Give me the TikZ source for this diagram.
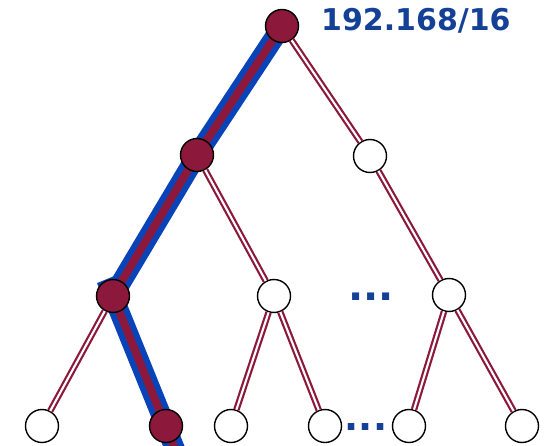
\documentclass[tikz,border=0pt]{standalone}
\usepackage{fontspec}
\setmainfont{DejaVu Sans}
\usetikzlibrary{backgrounds}
\definecolor{wine}{RGB}{140,24,60}
\definecolor{route}{RGB}{8,68,184}
\definecolor{prefix}{RGB}{20,64,150}
\begin{document}
\begin{tikzpicture}[x=1pt, y=-1pt,
    hop/.style={circle, draw, line width=1.4pt, minimum size=33pt, inner sep=0pt, fill=white},
    used/.style={hop, fill=wine},
    link/.style={draw=wine, double=white, line width=2.2pt, double distance=2.1pt},
    more/.style={text=prefix, inner sep=0pt, anchor=base, font=\bfseries\fontsize{40}{40}\selectfont}]
\useasboundingbox (0,0) rectangle (545,446);

% tree
\node[used] (r) at (282,26) {};
\node[used] (a) at (197,155) {};
\node[hop] (b) at (370,156) {};
\node[used] (aa) at (113,296) {};
\node[hop] (ab) at (274,296) {};
\node[hop] (bb) at (449,295) {};
\node[hop] (aaa) at (42,426) {};
\node[used] (aab) at (166,426) {};
\node[hop] (aba) at (231,426) {};
\node[hop] (abb) at (325,426) {};
\node[hop] (bba) at (409,426) {};
\node[hop] (bbb) at (522,426) {};
\coordinate (out) at (181,464);

\foreach \p/\c in {r/b, a/ab, b/bb, aa/aaa, ab/aba, ab/abb, bb/bba, bb/bbb}
    \draw[link] (\p) -- (\c);

% lookup path
\begin{scope}[on background layer]
    \draw[route, line width=20pt] (r.center) -- (a.center) -- (aa.center);
    \draw[route, line width=20pt, shorten <=-18pt] (aa.center) -- (out);
    \draw[wine, line width=8pt] (r.center) -- (a.center) -- (aa.center) -- (out);
\end{scope}

\node[text=prefix, inner sep=0pt, anchor=base west, font=\bfseries\fontsize{30}{30}\selectfont] (net) at (321,31) {192.168/16};
\node[more] (gap1) at (371,300) {...};
\node[more, font=\bfseries\fontsize{37}{37}\selectfont] (gap2) at (366,430) {...};
\end{tikzpicture}
\end{document}
